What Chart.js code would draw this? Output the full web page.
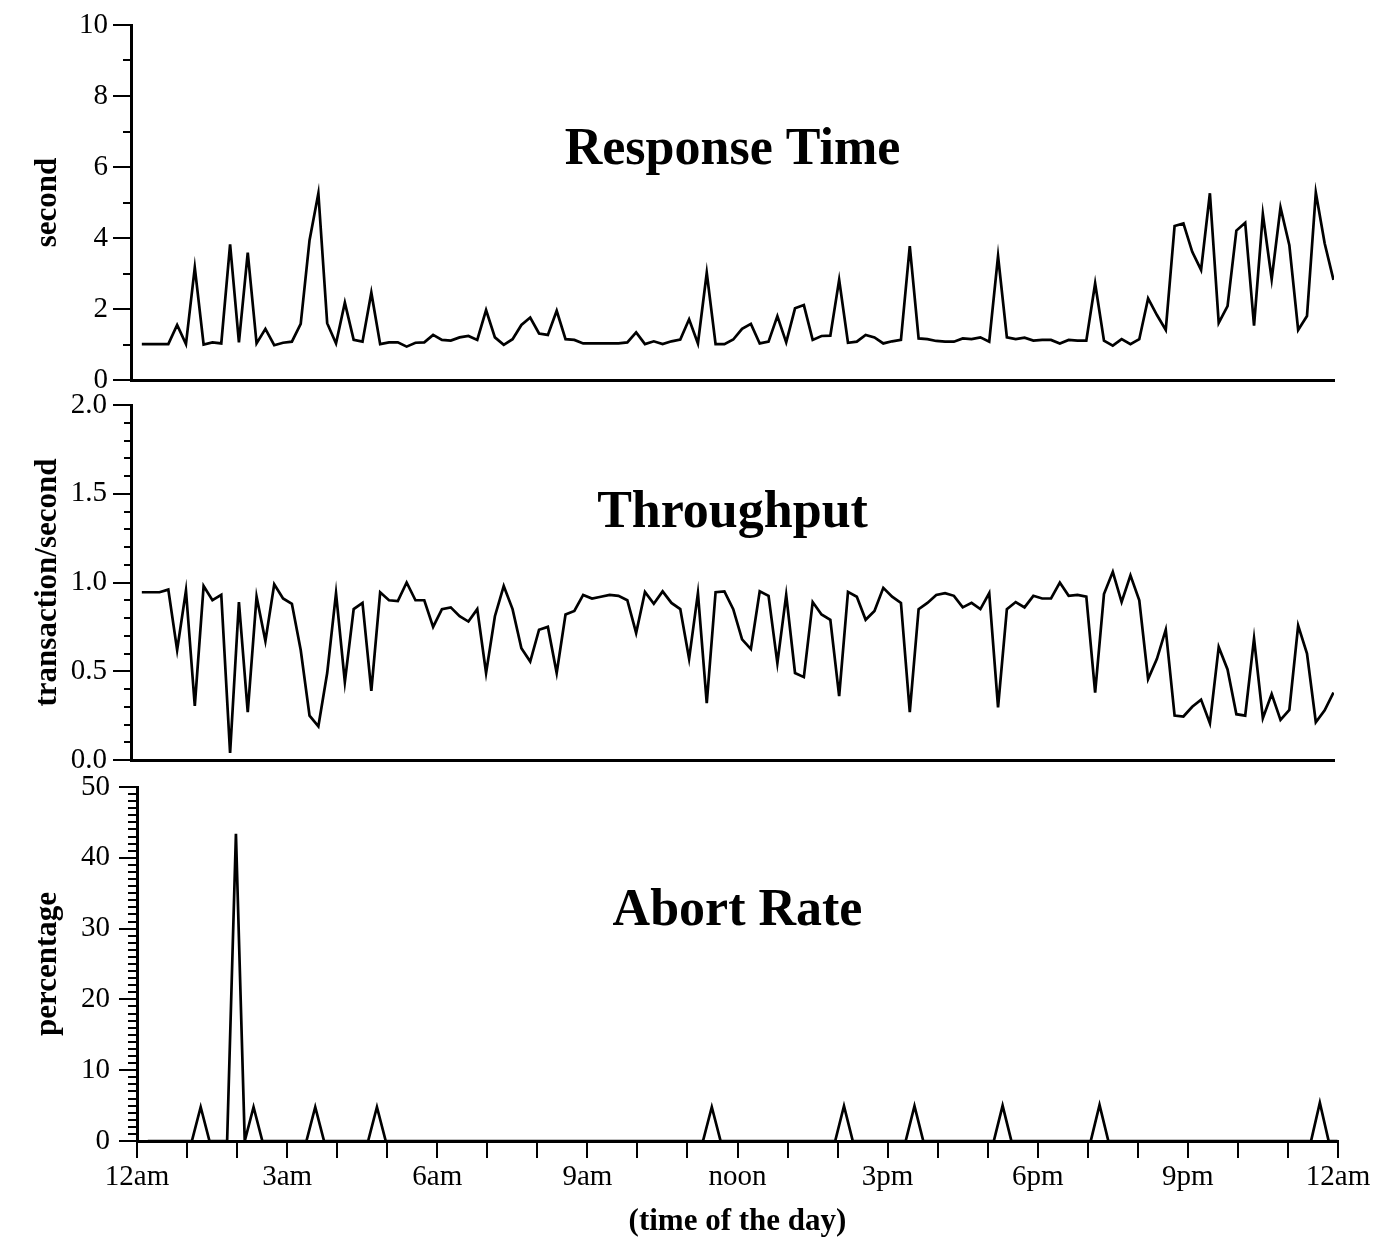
<!DOCTYPE html>
<html>
<head>
<meta charset="utf-8">
<script src="https://cdn.jsdelivr.net/npm/chart.js@4.4.1/dist/chart.umd.min.js"></script>
<style>
  body { margin: 0; background: #fff; }
  canvas { position: absolute; left: 0; top: 0; }
</style>
</head>
<body>
<canvas id="rt" width="1387" height="1241"></canvas>
<canvas id="tp" width="1387" height="1241"></canvas>
<canvas id="ab" width="1387" height="1241"></canvas>
<script>
// samples every ~10.5 minutes, first one just after midnight (hours)
const T0 = 0.216;
const STEP = 0.1761;

const hourLabels = ['12am', '3am', '6am', '9am', 'noon', '3pm', '6pm', '9pm', '12am'];

// response time (second)
const responseTime = [
  1.01, 1.01, 1.01, 1.01, 1.55, 1.01, 3.17, 1.00, 1.06, 1.03,
  3.82, 1.06, 3.59, 1.03, 1.44, 0.98, 1.05, 1.08, 1.58, 3.94,
  5.26, 1.60, 1.03, 2.18, 1.13, 1.08, 2.46, 1.01, 1.06, 1.06,
  0.94, 1.05, 1.06, 1.27, 1.13, 1.11, 1.20, 1.24, 1.13, 1.97,
  1.20, 0.99, 1.15, 1.55, 1.76, 1.31, 1.27, 1.95, 1.15, 1.13,
  1.03, 1.03, 1.03, 1.03, 1.03, 1.06, 1.34, 1.01, 1.09, 1.01,
  1.09, 1.14, 1.71, 1.03, 3.02, 1.01, 1.01, 1.14, 1.44, 1.58,
  1.03, 1.08, 1.80, 1.06, 2.02, 2.11, 1.13, 1.24, 1.25, 2.82,
  1.05, 1.08, 1.27, 1.20, 1.03, 1.09, 1.13, 3.77, 1.17, 1.15,
  1.10, 1.08, 1.08, 1.17, 1.15, 1.20, 1.08, 3.49, 1.20, 1.15,
  1.19, 1.11, 1.13, 1.13, 1.03, 1.13, 1.11, 1.11, 2.72, 1.11,
  0.97, 1.15, 1.01, 1.15, 2.30, 1.83, 1.41, 4.34, 4.41, 3.61,
  3.10, 5.26, 1.61, 2.08, 4.21, 4.43, 1.53, 4.67, 2.84, 4.86,
  3.80, 1.41, 1.80, 5.28, 3.85, 2.82
];

// throughput (transaction/second)
const throughput = [
  0.945, 0.945, 0.945, 0.96, 0.62, 0.955, 0.305, 0.98, 0.90, 0.93,
  0.04, 0.89, 0.27, 0.92, 0.67, 0.99, 0.91, 0.88, 0.62, 0.25,
  0.19, 0.49, 0.94, 0.44, 0.85, 0.885, 0.39, 0.945, 0.90, 0.895,
  1.00, 0.90, 0.90, 0.75, 0.85, 0.86, 0.81, 0.78, 0.85, 0.49,
  0.81, 0.98, 0.85, 0.63, 0.555, 0.734, 0.75, 0.49, 0.82, 0.84,
  0.93, 0.91, 0.92, 0.93, 0.925, 0.90, 0.716, 0.947, 0.88, 0.95,
  0.885, 0.85, 0.57, 0.94, 0.32, 0.945, 0.95, 0.85, 0.68, 0.625,
  0.95, 0.925, 0.546, 0.93, 0.49, 0.467, 0.89, 0.82, 0.79, 0.36,
  0.947, 0.92, 0.79, 0.84, 0.97, 0.92, 0.885, 0.27, 0.85, 0.885,
  0.93, 0.94, 0.925, 0.86, 0.885, 0.85, 0.94, 0.296, 0.85, 0.89,
  0.86, 0.925, 0.91, 0.91, 1.00, 0.925, 0.93, 0.92, 0.38, 0.935,
  1.06, 0.89, 1.04, 0.90, 0.456, 0.57, 0.734, 0.25, 0.245, 0.30,
  0.34, 0.207, 0.637, 0.51, 0.258, 0.25, 0.684, 0.236, 0.371, 0.226,
  0.282, 0.757, 0.60, 0.213, 0.28, 0.38
];

// abort rate (percentage)
const abortRate = [
  0, 0, 0, 0, 0, 0, 4.8, 0, 0, 0,
  43.4, 0, 4.8, 0, 0, 0, 0, 0, 0, 4.8,
  0, 0, 0, 0, 0, 0, 4.8, 0, 0, 0,
  0, 0, 0, 0, 0, 0, 0, 0, 0, 0,
  0, 0, 0, 0, 0, 0, 0, 0, 0, 0,
  0, 0, 0, 0, 0, 0, 0, 0, 0, 0,
  0, 0, 0, 0, 4.8, 0, 0, 0, 0, 0,
  0, 0, 0, 0, 0, 0, 0, 0, 0, 4.95,
  0, 0, 0, 0, 0, 0, 0, 4.95, 0, 0,
  0, 0, 0, 0, 0, 0, 0, 5.0, 0, 0,
  0, 0, 0, 0, 0, 0, 0, 0, 5.1, 0,
  0, 0, 0, 0, 0, 0, 0, 0, 0, 0,
  0, 0, 0, 0, 0, 0, 0, 0, 0, 0,
  0, 0, 0, 5.4, 0, 0
];

const times = responseTime.map((_, i) => T0 + i * STEP);

const SERIF = '"Liberation Serif", "Times New Roman", serif';

// short minor ticks on the y axis
const minorTicks = {
  id: 'minorTicks',
  afterDraw(chart, args, opts) {
    const y = chart.scales.y;
    const ctx = chart.ctx;
    const n = Math.round((y.max - y.min) / opts.step);
    ctx.save();
    ctx.strokeStyle = '#000';
    ctx.lineWidth = 2;
    for (let k = 0; k <= n; k++) {
      const p = Math.round(y.getPixelForValue(y.min + k * opts.step));
      ctx.beginPath();
      ctx.moveTo(y.right - opts.len, p);
      ctx.lineTo(y.right, p);
      ctx.stroke();
    }
    ctx.restore();
  }
};

// big title inside the plot area
const panelTitle = {
  id: 'panelTitle',
  afterDraw(chart, args, opts) {
    const a = chart.chartArea;
    const ctx = chart.ctx;
    ctx.save();
    ctx.font = 'bold 52px ' + SERIF;
    ctx.fillStyle = '#000';
    ctx.textAlign = 'center';
    ctx.textBaseline = 'middle';
    ctx.fillText(opts.text, (a.left + a.right) / 2, a.top + opts.dy);
    ctx.restore();
  }
};

function makePanel(id, p) {
  const bottomAxis = p.bottomAxis;
  return new Chart(document.getElementById(id), {
    type: 'line',
    data: {
      datasets: [{
        data: p.values.map((v, i) => ({ x: times[i], y: v })),
        borderColor: '#000',
        borderWidth: 2.7,
        pointRadius: 0,
        tension: 0,
        fill: false
      }]
    },
    options: {
      responsive: false,
      animation: false,
      devicePixelRatio: 1,
      layout: { padding: { left: 0, top: p.top, right: p.right, bottom: p.bottom } },
      plugins: {
        legend: { display: false },
        tooltip: { enabled: false },
        minorTicks: { step: p.minor, len: p.minorLen },
        panelTitle: { text: p.title, dy: p.titleDy }
      },
      scales: {
        x: {
          type: 'linear',
          min: 0,
          max: 24,
          afterFit(s) { s.height = bottomAxis ? 100 : 0; },
          ticks: {
            display: bottomAxis,
            stepSize: 1,
            autoSkip: false,
            maxRotation: 0,
            padding: 2,
            color: '#000',
            font: { family: SERIF, size: 29 },
            callback: (v) => (v % 3 === 0 ? hourLabels[v / 3] : '')
          },
          grid: {
            display: bottomAxis,
            drawOnChartArea: false,
            drawTicks: bottomAxis,
            tickLength: 17,
            color: '#000',
            lineWidth: 2
          },
          border: { display: true, color: '#000', width: 3 },
          title: {
            display: bottomAxis,
            text: '(time of the day)',
            color: '#000',
            font: { family: SERIF, size: 31, weight: 'bold' },
            padding: { top: 0, bottom: 0 }
          }
        },
        y: {
          min: p.min,
          max: p.max,
          afterFit(s) { s.width = p.left; },
          ticks: {
            stepSize: p.major,
            padding: p.labelPad,
            color: '#000',
            font: { family: SERIF, size: 29 },
            callback: p.fmt
          },
          grid: {
            drawOnChartArea: false,
            tickLength: 18,
            color: '#000',
            lineWidth: 2
          },
          border: { display: true, color: '#000', width: 3 },
          title: {
            display: true,
            text: p.yTitle,
            color: '#000',
            font: { family: SERIF, size: 31, weight: 'bold' },
            padding: { top: 29, bottom: 0 }
          }
        }
      }
    },
    plugins: [minorTicks, panelTitle]
  });
}

makePanel('rt', {
  values: responseTime, min: 0, max: 10, major: 2, minor: 1, minorLen: 8,
  fmt: (v) => String(v), yTitle: 'second', title: 'Response Time', titleDy: 126,
  left: 131, labelPad: 5, top: 25, right: 53, bottom: 1241 - 380, bottomAxis: false
});

makePanel('tp', {
  values: throughput, min: 0, max: 2, major: 0.5, minor: 0.1, minorLen: 7,
  fmt: (v) => v.toFixed(1), yTitle: 'transaction/second', title: 'Throughput', titleDy: 109,
  left: 131, labelPad: 6, top: 405, right: 53, bottom: 1241 - 760, bottomAxis: false
});

makePanel('ab', {
  values: abortRate, min: 0, max: 50, major: 10, minor: 1, minorLen: 9,
  fmt: (v) => String(v), yTitle: 'percentage', title: 'Abort Rate', titleDy: 125,
  left: 137, labelPad: 9, top: 787, right: 49, bottom: 0, bottomAxis: true
});
</script>
</body>
</html>
